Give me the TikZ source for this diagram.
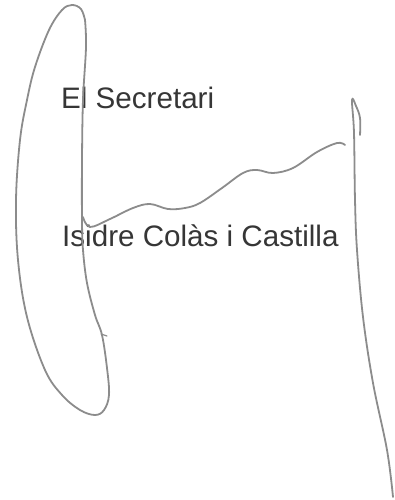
\documentclass[tikz,border=0pt]{standalone}
\usepackage{fontspec}
\setmainfont{Liberation Sans}
\definecolor{inkgray}{HTML}{8C8C8C}
\definecolor{textgray}{HTML}{363636}
\begin{document}
\begin{tikzpicture}[x=1pt,y=-1pt,
  pen/.style={draw=inkgray,line width=1.8pt,line cap=round,line join=round},
  label/.style={anchor=base west,inner sep=0pt,text=textgray,font=\fontsize{29.6}{35}\selectfont}]
\useasboundingbox (0,0) rectangle (394,500);
\fill[white] (0,0) rectangle (394,500);
% text
\node[label] (sec) at (61,109) {El Secretari};
\node[label] (name) at (62,246) {Isidre Colàs i Castilla};
% left loop
\draw[pen] plot[smooth,tension=0.6] coordinates {
  (85,20) (86,47) (83,100) (82,160) (82,220) (83,250) (87,283) (95,315)
  (102,335) (107,368) (109,395) (104,410) (95,415) (80,410) (62,395) (45,370)
  (27,317) (18,260) (16,200) (20,140) (27,100) (35,67) (49,30) (62,10) (72,5) (81,9) (85,20)};
\draw[pen,line width=1.2pt] (101,334) -- (107,336);
% wave
\draw[pen] plot[smooth,tension=0.6] coordinates {
  (83,217) (90,227) (110,219) (133,208) (150,204) (168,209) (185,208) (200,203)
  (222,188) (243,173) (257,170) (273,173) (293,168) (317,152) (337,143) (345,145)};
% right stroke
\draw[pen] plot[smooth,tension=0.6] coordinates {
  (360,135) (360,118) (356,106) (352,100) (354,133) (355,200) (357,250) (363,317)
  (373,383) (387,450) (393,497)};
\end{tikzpicture}
\end{document}
